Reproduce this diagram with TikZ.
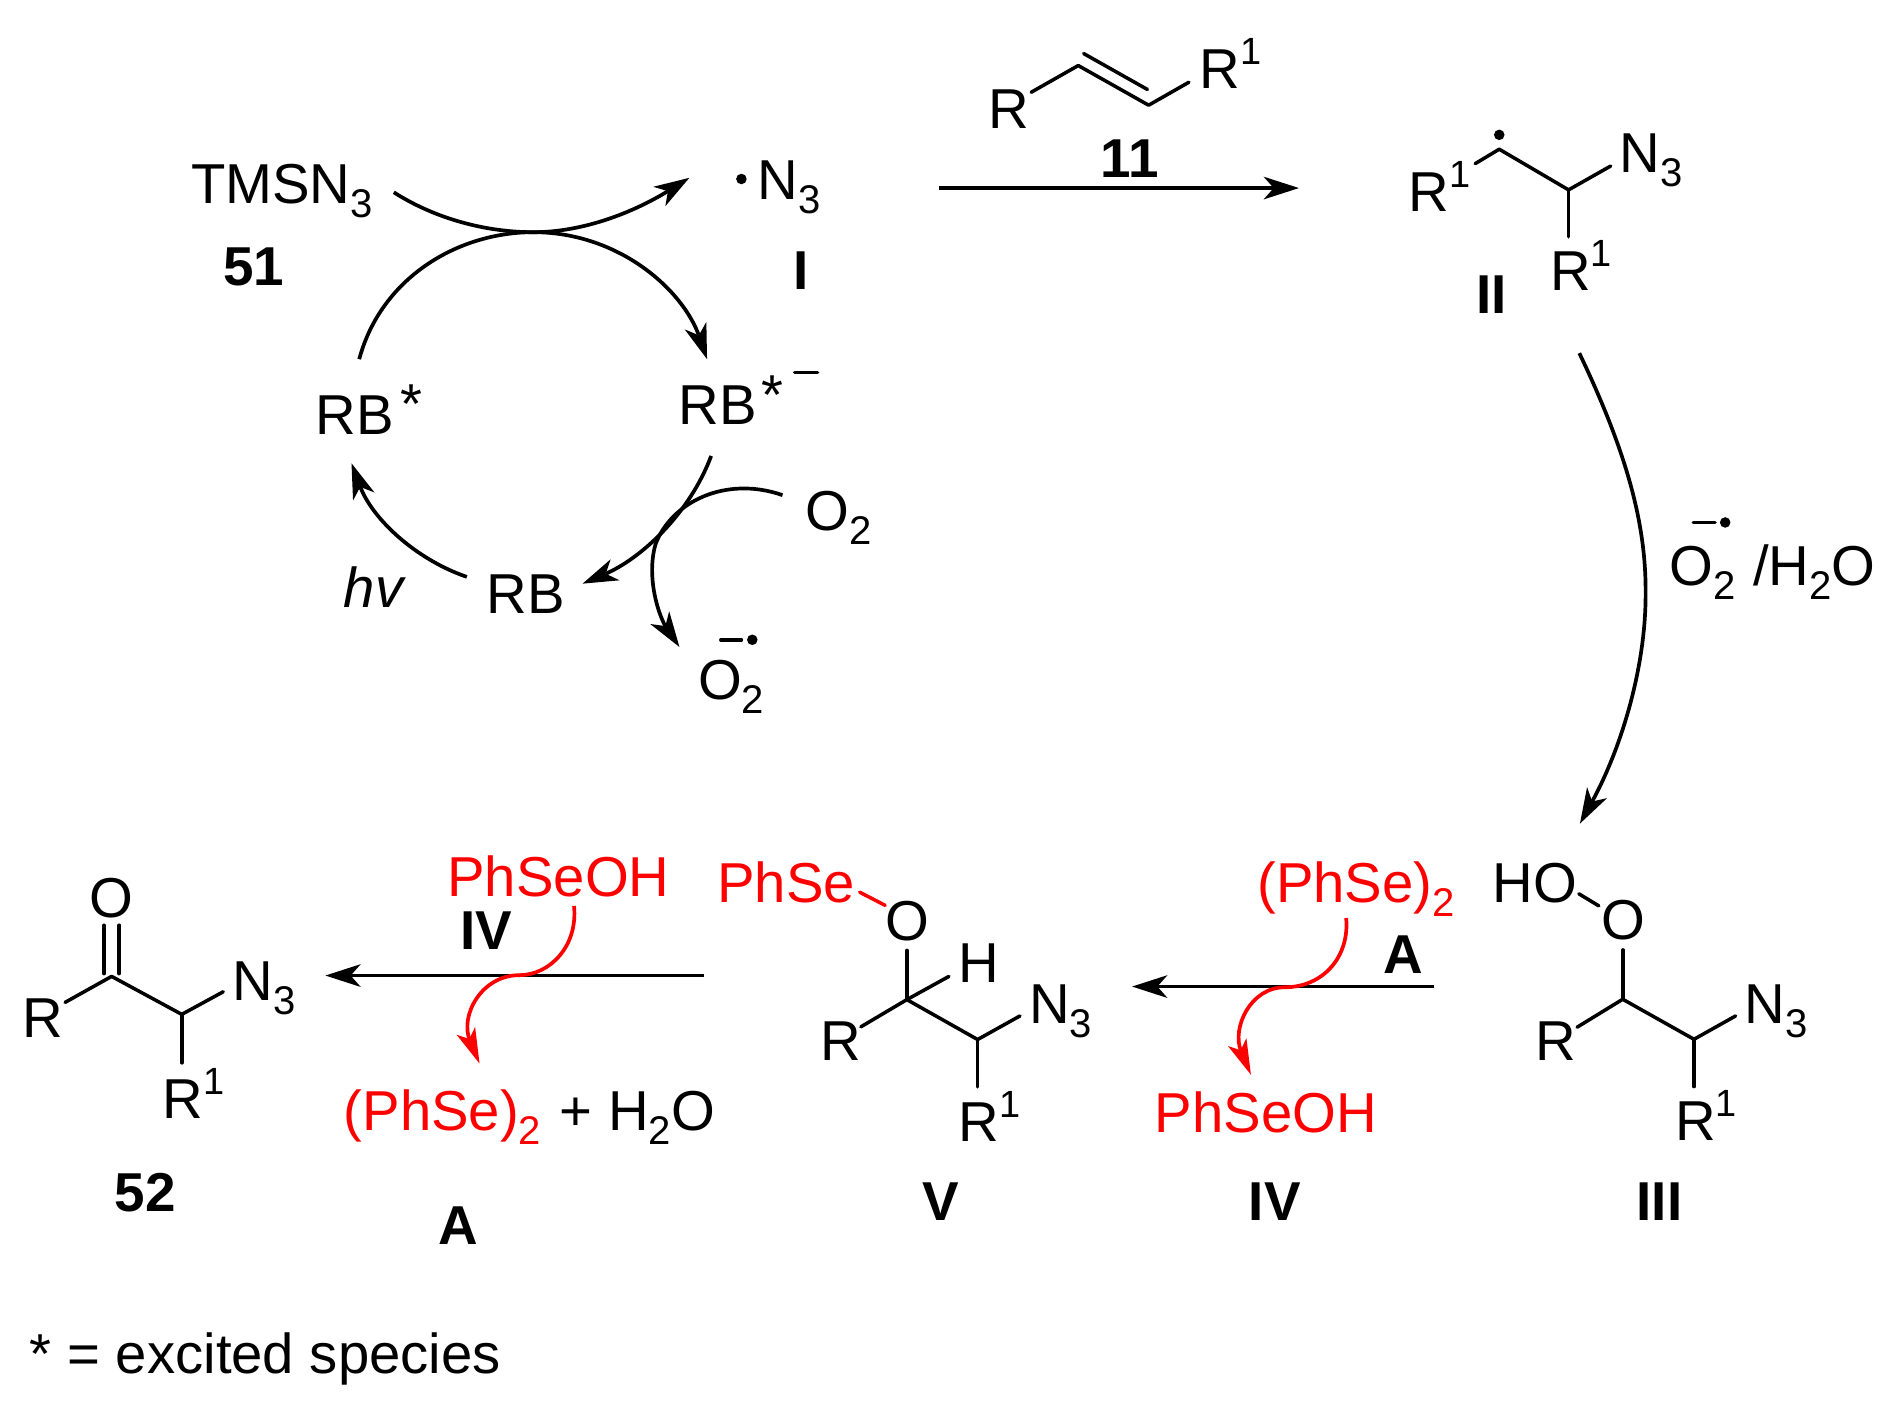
\documentclass[tikz,border=0pt]{standalone}
\usepackage{fontspec}
\setmainfont{Liberation Sans}
\usetikzlibrary{arrows.meta}
\newcommand{\sbs}[1]{\raisebox{-4pt}{\fontsize{11.4}{12}\selectfont #1}}
\newcommand{\sps}[1]{\raisebox{6.8pt}{\fontsize{10.8}{11}\selectfont #1}}
\tikzset{
  txt/.style={anchor=base west,inner sep=0pt,outer sep=0pt,xshift=-.6pt,font=\fontsize{16.02}{18}\selectfont},
  redtxt/.style={txt,text=chemred},
  bld/.style={anchor=base,inner sep=0pt,outer sep=0pt,font=\fontsize{15.6}{18}\selectfont\bfseries},
  bond/.style={line width=1pt,line cap=round},
  redbond/.style={bond,draw=chemred},
  rxn/.style={line width=1.05pt,-{Stealth[length=10pt,width=6.4pt,inset=2.8pt]}},
  redrxn/.style={rxn,draw=chemred,-{Stealth[length=10pt,width=5.6pt,inset=2.4pt,fill=chemred]}},
  rad/.style={circle,fill=black,inner sep=0pt,minimum size=3pt},
}
\definecolor{chemred}{RGB}{255,0,0}
\begin{document}
\begin{tikzpicture}[x=.012095cm,y=-.012095cm]
\useasboundingbox[fill=white] (0,0) rectangle (1566,1164.1);

% --- photocatalytic cycle
\node[txt,xshift=.6pt] (tms) at (158,168) {TMSN\sbs{3}};
\node[bld] (l51) at (210,236) {51};
\node[rad] (dotN) at (613,148) {};
\node[txt] (n3r) at (628,165) {N\sbs{3}};
\node[bld] (lI) at (662,239) {I};
\node[txt] (rbm) at (563,351) {RB};
\node[txt] (sta) at (631,343) {*};
\coordinate (ma) at (657,308); \coordinate (mb) at (676,308);
\draw[bond] (ma) -- (mb);
\node[txt] (rbs) at (263,359) {RB};
\node[txt] (stb) at (333,350) {*};
\node[txt] (rb) at (404,507) {RB};
\node[txt] (hv) at (286,502) {\itshape hv};
\node[txt] (o2) at (668,439) {O\sbs{2}};
\node[txt] (o2r) at (579,578) {O\sbs{2}};
\coordinate (mc) at (596,529); \coordinate (md) at (613,529);
\draw[bond] (mc) -- (md);
\node[rad] (dotO) at (622,529) {};

\coordinate (a1) at (325.6,159); \coordinate (top) at (441,192); \coordinate (a2) at (570,147);
\draw[rxn] (a1) .. controls (360,181) and (402,192) .. (top) .. controls (483,192) and (525,175) .. (a2);
\coordinate (b1) at (297,297); \coordinate (b2) at (584.6,297);
\draw[rxn] (b1) .. controls (315,230) and (378,192) .. (top) .. controls (512,192) and (565,240) .. (b2);
\coordinate (c1) at (588,377); \coordinate (c2) at (481.6,482.6);
\draw[rxn] (c1) .. controls (570,425) and (530,462) .. (c2);
\coordinate (d1) at (386,477); \coordinate (d2) at (290.6,383);
\draw[rxn] (d1) .. controls (345,463) and (308,430) .. (d2);
\coordinate (e1) at (647,409.4); \coordinate (e2) at (561.8,535);
\draw[rxn] (e1) .. controls (600,393) and (555,415) .. (542,450) .. controls (534,478) and (545,510) .. (e2);

% --- alkene 11
\node[txt] (rA) at (819,106) {R};
\node[txt] (r1A) at (993.6,73) {R\sps{1}};
\node[bld] (l11) at (934,147) {11};
\coordinate (f1) at (852.6,76.3); \coordinate (f2) at (891.5,54.2); \coordinate (f3) at (949.7,87); \coordinate (f4) at (983,68);
\coordinate (f5) at (896,44.3); \coordinate (f6) at (948.7,74);
\draw[bond,line join=round] (f1) -- (f2) -- (f3) -- (f4);
\draw[bond] (f5) -- (f6);
\coordinate (g1) at (776,155.5); \coordinate (g2) at (1074,155.5);
\draw[rxn] (g1) -- (g2);

% --- radical II
\node[txt] (r1B) at (1166.4,175) {R\sps{1}};
\node[txt] (n3B) at (1340.7,143) {N\sbs{3}};
\node[txt] (r1C) at (1283.4,240) {R\sps{1}};
\node[bld] (lII) at (1233,259) {II};
\node[rad] (dotB) at (1239.6,111.5) {};
\coordinate (h1) at (1219.7,135.3); \coordinate (h2) at (1239.6,123.4); \coordinate (h3) at (1296.9,157); \coordinate (h4) at (1331.7,137.3); \coordinate (h5) at (1296.9,195.8);
\draw[bond,line join=round] (h1) -- (h2) -- (h3) -- (h4);
\draw[bond] (h3) -- (h5);

% --- long arrow
\coordinate (i1) at (1305.8,292); \coordinate (i2) at (1360.6,490); \coordinate (i3) at (1306.3,681);
\draw[rxn] (i1) .. controls (1343,370) and (1361,430) .. (i2) .. controls (1361,552) and (1340,620) .. (i3);
\node[txt] (lo2) at (1382,484) {O\sbs{2}\kern.6pt{} /H\sbs{2}O};
\coordinate (me) at (1400,432); \coordinate (mf) at (1418,432);
\draw[bond] (me) -- (mf);
\node[rad] (dotC) at (1426.4,432) {};

% --- III
\node[txt] (ho) at (1236,746) {HO};
\node[txt] (oIII) at (1326,777) {O};
\node[txt] (rIII) at (1271.4,877) {R};
\node[txt] (n3III) at (1444.4,846) {N\sbs{3}};
\node[txt] (r1III) at (1386.9,943.3) {R\sps{1}};
\node[bld] (lIII) at (1372,1009) {III};
\coordinate (j1) at (1305.4,739); \coordinate (j2) at (1321.9,749);
\draw[bond] (j1) -- (j2);
\coordinate (k1) at (1341.7,785.4); \coordinate (k2) at (1341.7,826.2); \coordinate (k3) at (1304,849.3); \coordinate (k4) at (1400.6,859.3); \coordinate (k5) at (1435,840); \coordinate (k6) at (1400.6,898.4);
\draw[bond] (k1) -- (k2);
\draw[bond,line join=round] (k3) -- (k2) -- (k4) -- (k5);
\draw[bond] (k4) -- (k6);

% --- step III -> V
\node[redtxt] (dse1) at (1041.3,746) {(PhSe)\sbs{2}};
\node[bld] (lA1) at (1160,805) {A};
\node[redtxt] (pso1) at (956.5,936) {PhSeOH};
\node[bld] (lIV1) at (1054,1009) {IV};
\coordinate (l1) at (1186,815.7); \coordinate (l2) at (936,815.7);
\draw[rxn] (l1) -- (l2);
\coordinate (m1) at (1113,759); \coordinate (m2) at (1062.5,816.3); \coordinate (m3) at (1034.3,888.7);
\draw[redrxn] (m1) .. controls (1116,790) and (1095,816) .. (m2) .. controls (1034,816) and (1018,850) .. (m3);

% --- V
\node[redtxt] (pse) at (594.8,746) {PhSe};
\coordinate (n1) at (710.8,737.7); \coordinate (n2) at (731.9,748.6);
\draw[redbond] (n1) -- (n2);
\node[txt] (oV) at (734,777.5) {O};
\node[txt] (hV) at (794.6,812) {H};
\node[txt] (rV) at (680,877) {R};
\node[txt] (n3V) at (852.7,846) {N\sbs{3}};
\node[txt] (r1V) at (794.6,943.5) {R\sps{1}};
\node[bld] (lV) at (778,1009) {V};
\coordinate (o1) at (749.8,785.8); \coordinate (o2c) at (749.8,826.5); \coordinate (o3) at (784.6,807.3); \coordinate (o4) at (711.8,849); \coordinate (o5) at (808.3,859.5); \coordinate (o6) at (843.3,840); \coordinate (o7) at (808.3,898.7);
\draw[bond] (o1) -- (o2c);
\draw[bond] (o2c) -- (o3);
\draw[bond,line join=round] (o4) -- (o2c) -- (o5) -- (o6);
\draw[bond] (o5) -- (o7);

% --- step V -> 52
\node[redtxt] (pso2) at (371.7,741) {PhSeOH};
\node[bld] (lIV2) at (402,785) {IV};
\node[txt] (se2) at (286,935) {\textcolor{chemred}{(PhSe)\sbs{2}}\kern.8pt{} + H\sbs{2}O};
\node[bld] (lA2) at (379,1029) {A};
\coordinate (p1) at (582,806.6); \coordinate (p2) at (269,806.6);
\draw[rxn] (p1) -- (p2);
\coordinate (q1) at (474.6,749); \coordinate (q2) at (429.7,806.3); \coordinate (q3) at (396.5,879.4);
\draw[redrxn] (q1) .. controls (478,782) and (455,806) .. (q2) .. controls (398,806) and (380,840) .. (q3);

% --- 52
\node[txt] (o52) at (75.5,759) {O};
\node[txt] (r52) at (20,858) {R};
\node[txt] (n352) at (194,827) {N\sbs{3}};
\node[txt] (r152) at (136,924.5) {R\sps{1}};
\node[bld] (l52) at (120,1002) {52};
\coordinate (s1) at (53.8,828.8); \coordinate (s2) at (92.3,807.3); \coordinate (s3) at (150.3,838.7); \coordinate (s4) at (184.6,820); \coordinate (s5) at (150.3,878.8);
\coordinate (s6) at (86,765); \coordinate (s7) at (86,805); \coordinate (s8) at (98.6,765); \coordinate (s9) at (98.6,805);
\draw[bond,line join=round] (s1) -- (s2) -- (s3) -- (s4);
\draw[bond] (s3) -- (s5);
\draw[bond] (s6) -- (s7);
\draw[bond] (s8) -- (s9);

% --- footnote
\node[txt,xshift=.6pt] (foot) at (24.8,1136) {* = excited species};
\end{tikzpicture}
\end{document}
